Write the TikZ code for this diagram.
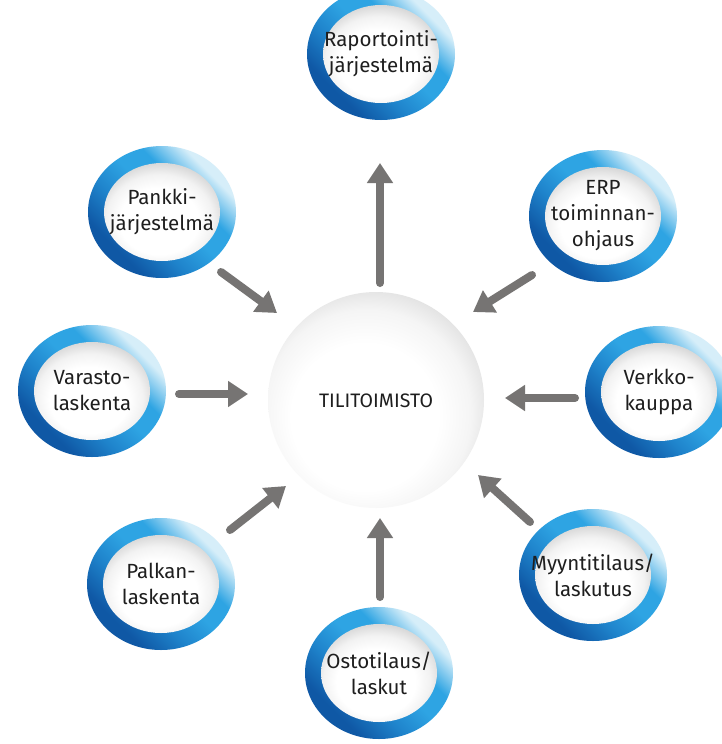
\documentclass[tikz,border=0pt]{standalone}
\usepackage{fontspec}
\setmainfont{Fira Sans}
\usetikzlibrary{arrows.meta}
\definecolor{ringdark}{HTML}{0F58A5}
\definecolor{ringmid}{HTML}{1F84CC}
\definecolor{ringmidb}{HTML}{2EA4E3}
\definecolor{ringlight}{HTML}{D6EEF9}
\definecolor{arrowgray}{HTML}{767473}
\definecolor{txt}{HTML}{1E1E1E}
\pgfdeclareverticalshading{ringgrad}{100bp}{color(0bp)=(ringdark); color(29bp)=(ringdark); color(41bp)=(ringmid); color(52bp)=(ringmidb); color(61bp)=(ringmidb); color(72bp)=(ringlight); color(100bp)=(ringlight)}
\pgfdeclareradialshading{innerball}{\pgfpoint{-2bp}{-7bp}}{color(0bp)=(white); color(17bp)=(white); color(23bp)=(black!5); color(28bp)=(black!15); color(32bp)=(black!20); color(50bp)=(black!20)}
\pgfdeclareradialshading{centerball}{\pgfpoint{-4bp}{-6bp}}{color(0bp)=(white); color(17bp)=(white); color(24bp)=(black!4); color(29bp)=(black!12); color(33bp)=(black!17); color(50bp)=(black!17)}
\tikzset{
  ringshade/.style={shading=ringgrad, shading angle=-45},
  innershade/.style={shading=innerball},
  lbl/.style={align=center, font=\fontsize{20.5}{26}\selectfont, text=txt, inner sep=0pt},
  flow/.style={line width=8pt, draw=arrowgray, line cap=round, -{Triangle[width=25pt,length=20pt]}},
}
\newcommand\myring[4]{%
  \shade[ringshade] (#2,#3) ellipse [x radius=74, y radius=66];
  \shade[innershade] (#2,#3) ellipse [x radius=58, y radius=49];
  \node[lbl] (#1) at (#2,#3) {#4};
}
\begin{document}
\begin{tikzpicture}[x=1pt,y=-1pt]
\useasboundingbox (0,0) rectangle (722,744);
\clip (0,0) rectangle (722,744);
\fill[white] (0,0) rectangle (722,744);
% center
\shade[shading=centerball] (376,400) circle [radius=108];
\node[font=\fontsize{19.5}{22}\selectfont, text=txt] (c) at (376,401) {TILITOIMISTO};
% rings
\myring{rap}{381}{54}{Raportointi-\\järjestelmä}
\myring{pank}{162}{212}{Pankki-\\järjestelmä}
\myring{erp}{603}{216}{ERP\\toiminnan-\\ohjaus}
\myring{var}{92}{391}{Varasto-\\laskenta}
\myring{verk}{659}{392}{Verkko-\\kauppa}
\myring{palk}{161}{584}{Palkan-\\laskenta}
\myring{osto}{379}{673}{Ostotilaus/\\laskut}
\myring{myyn}{593}{575}{Myyntitilaus/\\laskutus}
% arrow end points
\coordinate (a1s) at (380,283); \coordinate (a1e) at (380,163);
\coordinate (a2s) at (221,272); \coordinate (a2e) at (277,313);
\coordinate (a3s) at (532,275); \coordinate (a3e) at (473,312);
\coordinate (a4s) at (179,394); \coordinate (a4e) at (248,394);
\coordinate (a5s) at (575,398); \coordinate (a5e) at (505,398);
\coordinate (a6s) at (230,530); \coordinate (a6e) at (286,486);
\coordinate (a7s) at (380,597); \coordinate (a7e) at (380,518);
\coordinate (a8s) at (530,522); \coordinate (a8e) at (478,475);
\draw[flow] (a1s) -- (a1e);
\draw[flow] (a2s) -- (a2e);
\draw[flow] (a3s) -- (a3e);
\draw[flow] (a4s) -- (a4e);
\draw[flow] (a5s) -- (a5e);
\draw[flow] (a6s) -- (a6e);
\draw[flow] (a7s) -- (a7e);
\draw[flow] (a8s) -- (a8e);
\end{tikzpicture}
\end{document}
